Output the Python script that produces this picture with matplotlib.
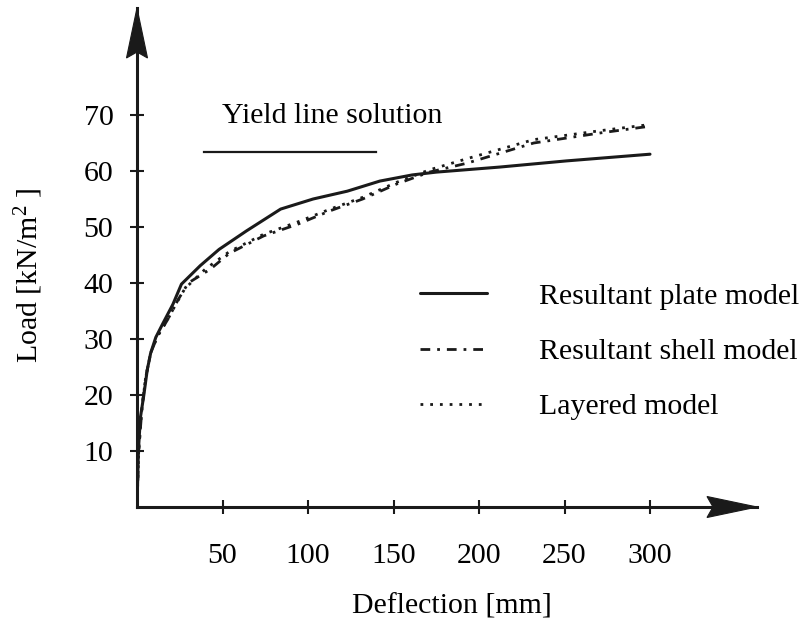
import matplotlib
matplotlib.use("Agg")
import matplotlib.pyplot as plt
from matplotlib.patches import Polygon
from matplotlib.transforms import IdentityTransform

plt.rcParams['font.family'] = ['Liberation Serif', 'DejaVu Serif']
plt.rcParams['mathtext.fontset'] = 'custom'
plt.rcParams['mathtext.rm'] = 'Liberation Serif'
plt.rcParams['mathtext.it'] = 'Liberation Serif:italic'

# deflection [mm] / load [kN/m2]
plate_x = [0, 0.8, 2, 4, 6, 8, 11, 15, 21, 26, 37, 48, 64, 84, 103, 123, 142, 161, 175, 212, 251, 300]
plate_y = [0, 10, 16, 20, 24.5, 27.5, 30.3, 32.7, 36.2, 39.8, 43.1, 46, 49.3, 53.2, 55, 56.4, 58.2, 59.3, 59.8, 60.7, 61.8, 63]

shell_x = [0, 1, 3, 5, 8, 12, 18, 24, 30, 43, 54, 74, 94, 113, 132, 152, 171, 193, 232, 271, 300]
shell_y = [0, 10, 18, 23, 27.5, 30.5, 33.5, 37, 40, 42.5, 45.3, 48.4, 50.5, 52.9, 55, 57.7, 59.8, 61.4, 65, 66.8, 68]

layer_x = [0, 1, 3, 5, 8, 12, 18, 22, 28, 40, 54, 74, 94, 113, 132, 152, 171, 193, 232, 271, 300]
layer_y = [0, 10, 18, 23, 27.5, 30.5, 33.5, 35.8, 39, 42.5, 45.6, 48.7, 50.9, 53.2, 55.3, 58, 60.2, 62.2, 65.6, 67.2, 68.3]

yield_x = [39, 140]
yield_load = 63.4

x_ticks = [50, 100, 150, 200, 250, 300]
y_ticks = [10, 20, 30, 40, 50, 60, 70]

FS = 21.5
INK = '#1a1a1a'
W, H = 807, 623
fig = plt.figure(figsize=(W / 100, H / 100), dpi=100)
# origin at (137, 507) px, axes run up to the arrow tips
x0, y0 = 137, H - 507
x_tip, y_tip = 757, H - 8
ax = fig.add_axes([x0 / W, y0 / H, (x_tip - x0) / W, (y_tip - y0) / H])
ax.set_xlim(0, (x_tip - x0) / 1.71)
ax.set_ylim(0, (y_tip - y0) / 5.6)

ax.plot(plate_x, plate_y, color=INK, lw=2.2, solid_capstyle='round',
        label='Resultant plate model')
ax.plot(shell_x, shell_y, color=INK, lw=2.0, linestyle=(0, (3.5, 2.5, 1, 2.5)),
        label='Resultant shell model')
ax.plot(layer_x, layer_y, color=INK, lw=2.0, linestyle=(0, (1, 2.5)),
        label='Layered model')

ax.plot(yield_x, [yield_load, yield_load], color=INK, lw=1.6)
ax.text(49.7, 69.8, 'Yield line solution', fontsize=FS, va='center', ha='left')

for s in ['top', 'right']:
    ax.spines[s].set_visible(False)
for s in ['left', 'bottom']:
    ax.spines[s].set_linewidth(2.2)
    ax.spines[s].set_color(INK)

ax.set_xticks(x_ticks)
ax.set_yticks(y_ticks)
ax.tick_params(axis='both', direction='inout', length=10, width=1.5, color=INK,
               labelsize=FS)
ax.tick_params(axis='x', pad=21)
ax.tick_params(axis='y', pad=12)

# stealth-type arrow heads, drawn in pixels
L, hw, notch = 50, 10.5, 6
x_head = [(x_tip, y0), (x_tip - L, y0 + hw), (x_tip - L + notch, y0), (x_tip - L, y0 - hw)]
y_head = [(x0, y_tip), (x0 - hw, y_tip - L), (x0, y_tip - L + notch), (x0 + hw, y_tip - L)]
for pts in (x_head, y_head):
    fig.patches.append(Polygon(pts, closed=True, facecolor=INK, edgecolor=INK, lw=0.8,
                               transform=IdentityTransform(), figure=fig))

ax.legend(loc='upper left', bbox_to_anchor=(420 / W, 1 - 283 / H),
          bbox_transform=fig.transFigure, frameon=False, fontsize=FS,
          handlelength=2.25, handletextpad=1.75, labelspacing=0.95,
          borderpad=0, borderaxespad=0)

fig.text(452 / W, 1 - 606 / H, 'Deflection [mm]', fontsize=FS, ha='center', va='center')
fig.text(29 / W, 1 - 275 / H, r'Load [kN/m$^2$ ]', fontsize=FS, ha='center', va='center',
         rotation=90)

fig.savefig('out.png', dpi=100)
